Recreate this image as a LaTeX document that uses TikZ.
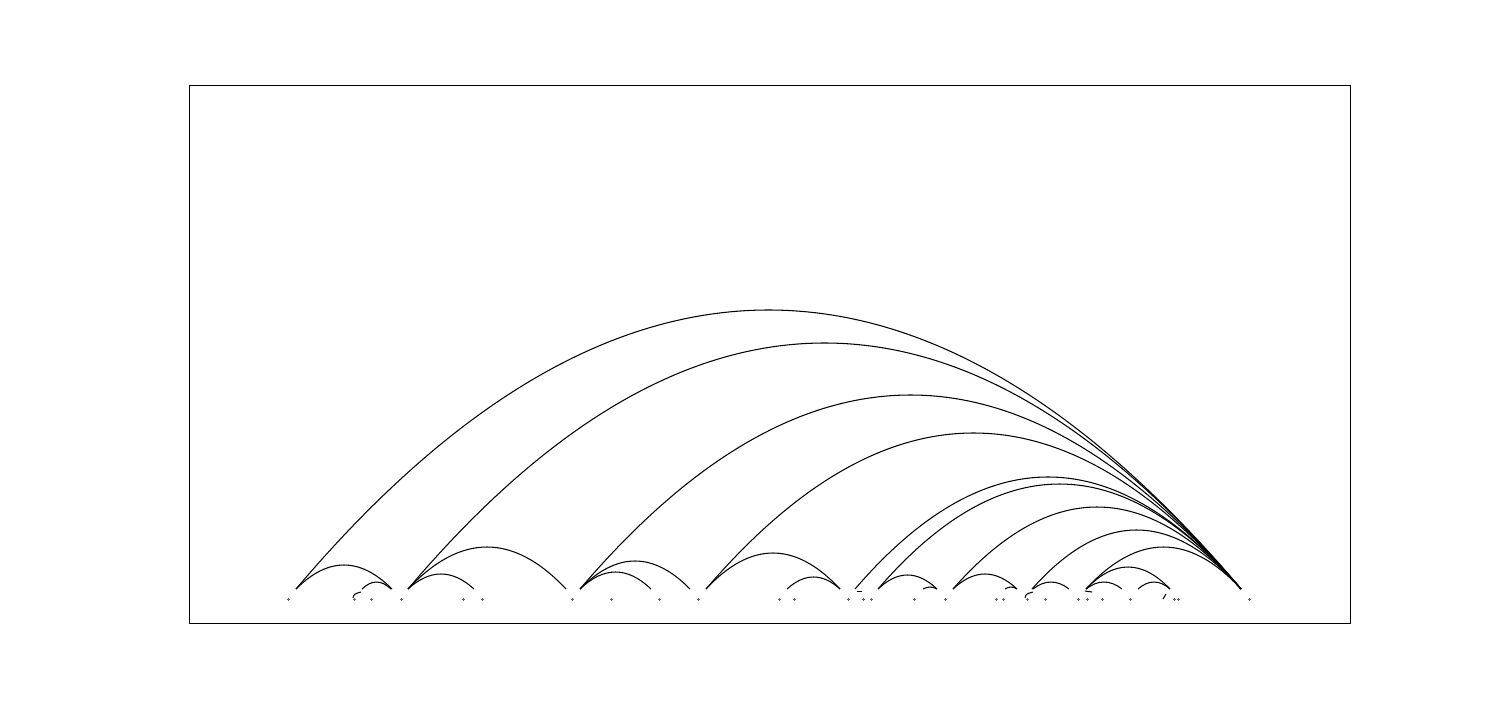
\documentclass[tikz,border=0pt]{standalone}
\begin{document}
\begin{tikzpicture}[
  x=0.02cm, y=-0.02cm,
  arcline/.style={black, line width=0.6pt},
  hookline/.style={black, line width=0.6pt},
  tickmark/.style={gray!80!black, line width=0.35pt},
  frame/.style={black, line width=0.5pt},
]
\useasboundingbox (0,0) rectangle (1500,700);

% ===== Axes frame ==============================================================
\draw[frame] (189,85) rectangle (1350,623);

\def\base{589}

% ===== Long arcs, all ending in the right hub (parabolic) ======================
\coordinate (hub) at (1241,\base);
\foreach \xa/\h [count=\i] in {296/279, 408/246, 580/194, 706/156, 855/112,
                               878/105, 953/82, 1032/59, 1086/42} {
  \coordinate (h\i) at (\xa,\base);
  \draw[arcline] (h\i) .. controls ({\xa+(1241-\xa)/3},{\base-4*\h/3})
                       and ({1241-(1241-\xa)/3},{\base-4*\h/3}) .. (hub);
}

% ===== Short arcs along the baseline ==========================================
\foreach \xa/\xb/\h [count=\i] in {296/392/24, 362/391/7, 408/474/15, 408/566/42,
                                   580/651/17, 580/690/28, 706/840/36, 787/840/12,
                                   878/937/14, 923/937/2, 953/1017/15, 1005/1017/2,
                                   1033/1069/7, 1086/1122/7, 1086/1170/22, 1138/1170/7} {
  \coordinate (sa\i) at (\xa,\base);
  \coordinate (sb\i) at (\xb,\base);
  \draw[arcline] (sa\i) .. controls ({\xa+(\xb-\xa)/3},{\base-4*\h/3})
                        and ({\xb-(\xb-\xa)/3},{\base-4*\h/3}) .. (sb\i);
}

% ===== Tiny hooks and dashes near the baseline ================================
\draw[hookline] (353,598) .. controls (354,594) .. (361,592);
\draw[hookline] (1025,598) .. controls (1026,594) .. (1033,592);
\draw[hookline] (1163,599) .. controls (1164,596) .. (1166,594);
\draw[hookline, line width=0.45pt] (857,591.5) -- (862,591.5);
\draw[hookline] (1085,591) .. controls (1088,592) .. (1092,592);

% ===== Small markers below the baseline =======================================
\foreach \x in {288, 354, 371, 401, 463, 482, 572, 611, 659, 698, 779, 794,
                848, 863, 871, 914, 945, 996, 1003, 1027, 1045, 1078, 1087,
                1102, 1130, 1174, 1178, 1249} {
  \draw[tickmark] ({\x-1.5},599) -- ({\x+1.5},599) (\x,597.5) -- (\x,600.5);
}

\end{tikzpicture}
\end{document}
